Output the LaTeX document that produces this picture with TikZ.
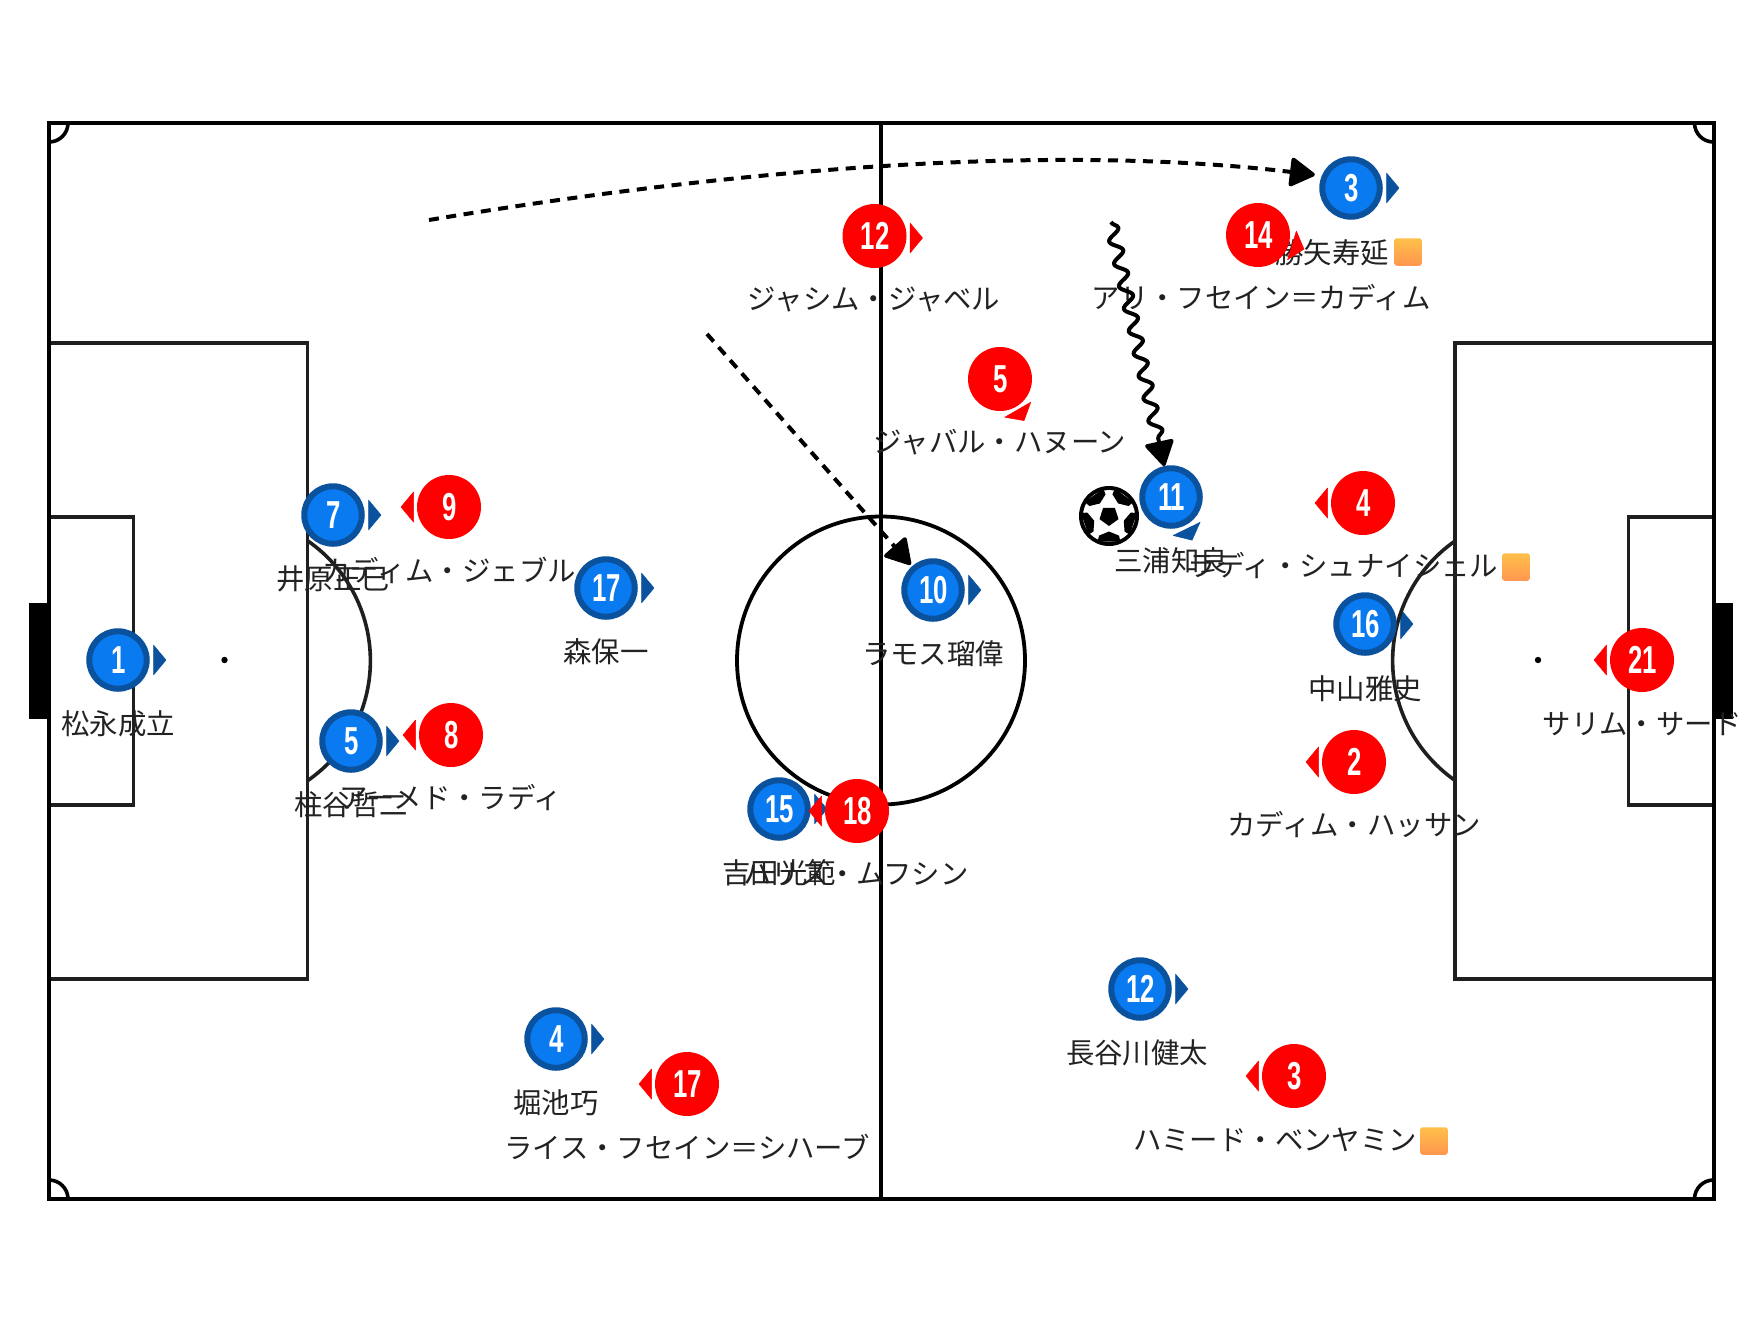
\documentclass[tikz,border=0pt]{standalone}
\usepackage{fontspec}
\usepackage{graphicx}
\setmainfont{Noto Sans CJK JP}
\newfontfamily\numfont{Liberation Sans}
\usetikzlibrary{arrows.meta,decorations.pathmorphing}
\definecolor{blueteam}{HTML}{0A7AF0}
\definecolor{blueedge}{HTML}{0B529E}
\definecolor{redteam}{HTML}{FF0000}
\definecolor{labeltext}{HTML}{222222}
\definecolor{cardtop}{HTML}{FFC04A}
\definecolor{cardbot}{HTML}{FF9650}
\tikzset{
  x=1pt,y=-1pt,
  fieldline/.style={draw=black,line width=4pt},
  boxline/.style={draw=black!88,line width=3.6pt},
  bplayer/.style={circle,fill=blueteam,draw=blueedge,line width=6pt,minimum size=57.5pt,inner sep=0pt,text=white,font=\numfont\bfseries\fontsize{39}{39}\selectfont},
  rplayer/.style={circle,fill=redteam,minimum size=64pt,inner sep=0pt,text=white,font=\numfont\bfseries\fontsize{39}{39}\selectfont},
  btri/.style={fill=blueedge,draw=blueedge,line width=.5pt,line join=round},
  rtri/.style={fill=redteam,draw=redteam,line width=.5pt,line join=round},
  plabel/.style={inner sep=0pt,text=labeltext,font=\fontsize{28.4}{28.4}\selectfont,text height=25pt,text depth=5pt},
  card/.style={rounded corners=2.5pt,minimum size=27.5pt,inner sep=0pt,top color=cardtop,bottom color=cardbot},
  tiparrow/.style={-{Triangle[length=27pt,width=31pt,round]},line width=4pt,black},
  dashedrun/.style={tiparrow,dash pattern=on 10pt off 7.5pt},
  wavy/.style={tiparrow,line join=round,decorate,decoration={snake,segment length=23pt,amplitude=6pt,post length=28pt}}
}
\newcommand{\tri}[4]{\path[#1,shift={(#2,#3)},rotate=#4] (35.5,-15) -- (48,0) -- (35.5,15) -- cycle;}
\newcommand{\num}[1]{\hspace{1.2pt}\scalebox{0.66}[1]{#1}}
\begin{document}
\begin{tikzpicture}
\useasboundingbox (0,0) rectangle (1760,1320);
\fill[white] (0,0) rectangle (1760,1320);

% blue direction marks lie under the field lines
\tri{btri}{118}{660}{0}
\tri{btri}{333}{515}{0}
\tri{btri}{351}{741}{0}
\tri{btri}{606}{588}{0}
\tri{btri}{933}{590}{0}
\tri{btri}{779}{809}{0}
\tri{btri}{556}{1039}{0}
\tri{btri}{1140}{989}{0}
\tri{btri}{1365}{624}{0}
\tri{btri}{1171}{497}{-64}
\tri{btri}{1351}{188}{0}

% goals
\fill[black] (29,603) rectangle (49,718.5);
\fill[black] (1713,603) rectangle (1733,718.5);

% field
\draw[boxline] (49,343) rectangle (307.5,979);
\draw[boxline] (1713.5,343) rectangle (1455,979);
\draw[boxline] (49,517) rectangle (133.5,805);
\draw[boxline] (1713.5,517) rectangle (1628.5,805);
\draw[boxline] (308,541) arc[start angle=55.07,end angle=-55.07,radius=146pt];
\draw[boxline] (1455,541) arc[start angle=124.93,end angle=235.07,radius=146pt];
\draw[fieldline,line width=3.8pt] (881,660.5) circle[radius=144pt];
\draw[fieldline] (881,123) -- (881,1199);
\draw[fieldline] (49,123) rectangle (1713.5,1199);
\draw[fieldline,line width=3.6pt] (49,142) arc[start angle=-90,end angle=0,radius=19pt];
\draw[fieldline,line width=3.6pt] (1694.5,123) arc[start angle=180,end angle=270,radius=19pt];
\draw[fieldline,line width=3.6pt] (68,1199) arc[start angle=0,end angle=90,radius=19pt];
\draw[fieldline,line width=3.6pt] (1713.5,1180) arc[start angle=90,end angle=180,radius=19pt];
\fill[black] (224.5,660) circle[radius=3.2pt];
\fill[black] (1538,660) circle[radius=3.2pt];

% ball
\node[circle,fill=black,minimum size=60pt,inner sep=0pt] (ball) at (1109,516) {};
\fill[white] (ball.center) circle[radius=26pt];
\fill[black,shift={(ball.center)}] (90:10) -- (162:10) -- (234:10) -- (306:10) -- (18:10) -- cycle;
\foreach \a in {90,162,234,306,18}{
  \fill[black,shift={(ball.center)},line join=round] (\a:15.5) -- (\a+27:22) -- (\a+24:28) -- (\a-24:28) -- (\a-27:22) -- cycle;
}

% blue team
\node[bplayer] (b1) at (118,660) {\num{1}};
\node[bplayer] (b7) at (333,515) {\num{7}};
\node[bplayer] (b5) at (351,741) {\num{5}};
\node[bplayer] (b17) at (606,588) {\num{17}};
\node[bplayer] (b10) at (933,590) {\num{10}};
\node[bplayer] (b15) at (779,809) {\num{15}};
\node[bplayer] (b4) at (556,1039) {\num{4}};
\node[bplayer] (b12) at (1140,989) {\num{12}};
\node[bplayer] (b16) at (1365,624) {\num{16}};
\node[bplayer] (b11) at (1171,497) {\num{11}};
\node[bplayer] (b3) at (1351,188) {\num{3}};

\node[plabel] (lb1) at (118,724) {松永成立};
\node[plabel] (lb7) at (333,579) {井原正巳};
\node[plabel] (lb5) at (351,805) {柱谷哲二};
\node[plabel] (lb17) at (606,652) {森保一};
\node[plabel] (lb10) at (933,654) {ラモス瑠偉};
\node[plabel] (lb15) at (779,873) {吉田光範};
\node[plabel] (lb4) at (556,1103) {堀池巧};
\node[plabel] (lb12) at (1137,1053) {長谷川健太};
\node[plabel] (lb16) at (1365,689) {中山雅史};
\node[plabel] (lb11) at (1171,561) {三浦知良};
\node[plabel] (lb3) at (1332,253) {勝矢寿延};
\node[card] (cb3) at (1408,252) {};

% red team
\tri{rtri}{449}{507}{180}
\tri{rtri}{451}{735}{180}
\tri{rtri}{857}{811}{180}
\tri{rtri}{687}{1084}{180}
\tri{rtri}{1294}{1076}{180}
\tri{rtri}{1354}{762}{180}
\tri{rtri}{1363}{503}{180}
\tri{rtri}{1642}{660}{180}
\tri{rtri}{1000}{379}{-60}
\tri{rtri}{874.5}{238}{0}
\tri{rtri}{1258}{235}{-17}

\node[rplayer] (r9) at (449,507) {\num{9}};
\node[rplayer] (r8) at (451,735) {\num{8}};
\node[rplayer] (r18) at (857,811) {\num{18}};
\node[rplayer] (r17) at (687,1084) {\num{17}};
\node[rplayer] (r3) at (1294,1076) {\num{3}};
\node[rplayer] (r2) at (1354,762) {\num{2}};
\node[rplayer] (r4) at (1363,503) {\num{4}};
\node[rplayer] (r21) at (1642,660) {\num{21}};
\node[rplayer] (r5) at (1000,379) {\num{5}};
\node[rplayer] (r12) at (874.5,236) {\num{12}};
\node[rplayer] (r14) at (1258,235) {\num{14}};

\node[plabel] (lr9) at (449,571) {カディム・ジェブル};
\node[plabel] (lr8) at (451,798.5) {アーメド・ラディ};
\node[plabel] (lr18) at (856,874.5) {ハリス・ムフシン};
\node[plabel] (lr17) at (687,1148) {ライス・フセイン＝シハーブ};
\node[plabel] (lr3) at (1275,1140) {ハミード・ベンヤミン};
\node[card] (cr3) at (1434,1141) {};
\node[plabel] (lr2) at (1354,825) {カディム・ハッサン};
\node[plabel] (lr4) at (1343,566) {ラディ・シュナイシェル};
\node[card] (cr4) at (1516,567) {};
\node[plabel] (lr21) at (1642,724) {サリム・サード};
\node[plabel] (lr5) at (1000,442) {ジャバル・ハヌーン};
\node[plabel] (lr12) at (874,299) {ジャシム・ジャベル};
\node[plabel] (lr14) at (1261,298) {アリ・フセイン＝カディム};

% runs and passes
\coordinate (passstart) at (429,220);
\coordinate (throughstart) at (707,334);
\coordinate (dribblestart) at (1111,222);
\draw[dashedrun,shorten >=7pt] (passstart) .. controls (778,162) and (1073,146) .. (b3.157);
\draw[dashedrun,shorten >=2pt] (throughstart) -- (b10);
\draw[wavy] (dribblestart) -- (b11);
\end{tikzpicture}
\end{document}
